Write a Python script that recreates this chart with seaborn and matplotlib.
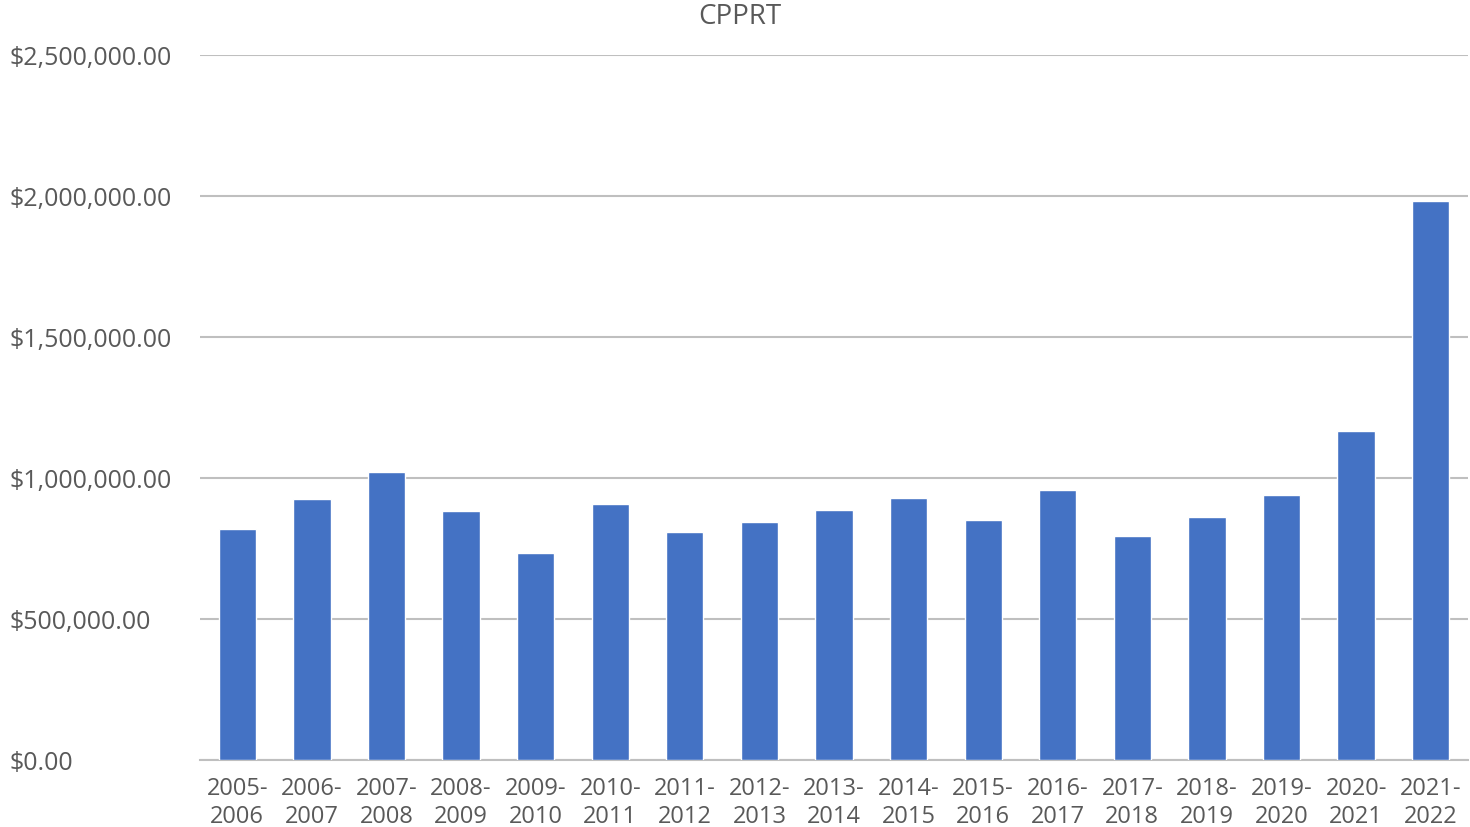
import matplotlib
matplotlib.use('Agg')
import matplotlib.pyplot as plt
import seaborn as sns
import pandas as pd
from matplotlib.ticker import FuncFormatter

years = ['2005-\n2006', '2006-\n2007', '2007-\n2008', '2008-\n2009', '2009-\n2010',
         '2010-\n2011', '2011-\n2012', '2012-\n2013', '2013-\n2014', '2014-\n2015',
         '2015-\n2016', '2016-\n2017', '2017-\n2018', '2018-\n2019', '2019-\n2020',
         '2020-\n2021', '2021-\n2022']
amounts = [820000, 925000, 1021000, 883000, 734000,
           907000, 809000, 845000, 887000, 928000,
           852000, 959000, 793000, 860000, 941000,
           1165000, 1981000]
y_ticks = [0, 500000, 1000000, 1500000, 2000000, 2500000]

df = pd.DataFrame({'year': years, 'amount': amounts})

sns.set_style('white')
plt.rcParams['font.family'] = ['Open Sans', 'DejaVu Sans']
text_color = '#595959'

fig = plt.figure(figsize=(14.7, 8.27), dpi=100)
ax = fig.add_axes([200 / 1470, 67 / 827, 1268 / 1470, 705 / 827])

sns.barplot(data=df, x='year', y='amount', color='#4472C4', width=0.5,
            saturation=1, ax=ax, zorder=3)

ax.set_ylim(0, 2500000)
ax.set_xlim(-0.5, len(years) - 0.5)
ax.set_yticks(y_ticks)
ax.yaxis.set_major_formatter(FuncFormatter(lambda v, p: f'${v:,.2f}'))
ax.grid(axis='y', color='#BFBFBF', linewidth=1.5, zorder=0)
ax.set_axisbelow(True)

for s in ['top', 'right', 'left']:
    ax.spines[s].set_visible(False)
ax.spines['bottom'].set_color('#BFBFBF')
ax.spines['bottom'].set_linewidth(1.5)

ax.tick_params(axis='y', length=0, pad=137, labelsize=18, labelcolor=text_color)
for lbl in ax.get_yticklabels():
    lbl.set_horizontalalignment('left')
ax.tick_params(axis='x', length=0, pad=12, labelsize=17, labelcolor=text_color)
for lbl in ax.get_xticklabels():
    lbl.set_linespacing(1.25)

ax.set_xlabel('')
ax.set_ylabel('')
fig.text(740 / 1470, 1 - 17 / 827, 'CPPRT', ha='center', va='center',
         fontsize=20, color=text_color)

fig.savefig('out.png', dpi=100)
